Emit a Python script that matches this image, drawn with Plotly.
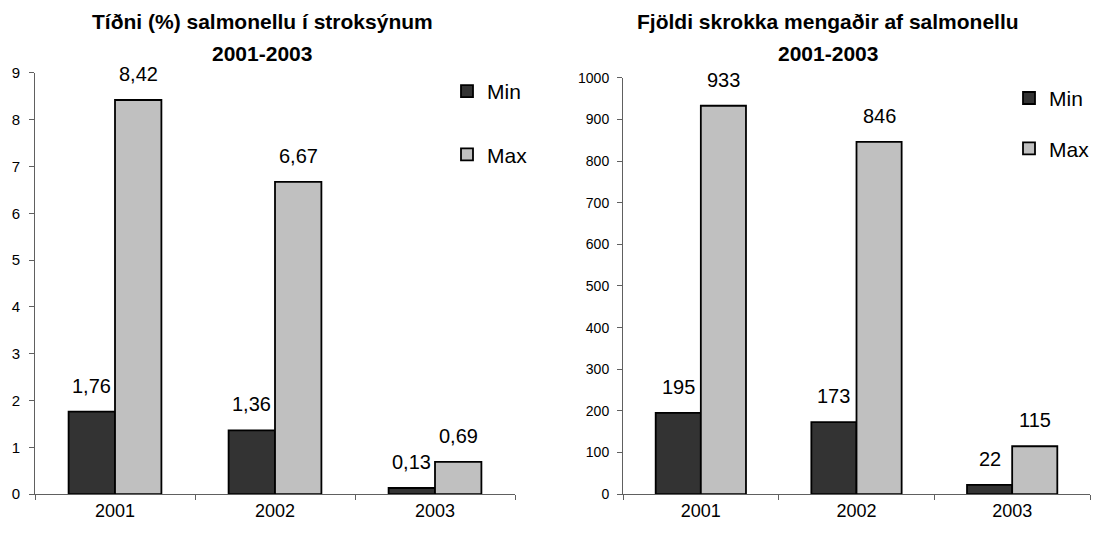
import plotly.graph_objects as go

years = ["2001", "2002", "2003"]
pct_min = [1.76, 1.36, 0.13]
pct_max = [8.42, 6.67, 0.69]
cnt_min = [195, 173, 22]
cnt_max = [933, 846, 115]

title_left = ["Tíðni (%) salmonellu í stroksýnum", "2001-2003"]
title_right = ["Fjöldi skrokka mengaðir af salmonellu", "2001-2003"]

C_MIN = "#333333"
C_MAX = "#c0c0c0"
FONT = "Liberation Sans, Arial, sans-serif"
BW = 0.29

W, H = 1108, 535


def py(y):
    """vertical pixel position (from top) -> paper fraction"""
    p = 267 + (y - 267) / 0.97
    return (H - p) / H


fig = go.Figure()

def add_pair(vmin, vmax, xa, ya, leg):
    fig.add_trace(go.Bar(x=years, y=vmin, name="Min", width=BW, offset=-BW,
                         marker=dict(color=C_MIN, line=dict(color="black", width=1.8)),
                         xaxis=xa, yaxis=ya, legend=leg, legendgroup=leg + "a"))
    fig.add_trace(go.Bar(x=years, y=vmax, name="Max", width=BW, offset=0,
                         marker=dict(color=C_MAX, line=dict(color="black", width=1.8)),
                         xaxis=xa, yaxis=ya, legend=leg, legendgroup=leg + "b"))

add_pair(pct_min, pct_max, "x", "y", "legend")
add_pair(cnt_min, cnt_max, "x2", "y2", "legend2")

annots = []
def labels(vmin, vmax, xref, yref, fmt):
    for i, (a, b) in enumerate(zip(vmin, vmax)):
        for v, dx in ((a, -BW / 2), (b, BW / 2)):
            annots.append(dict(x=i + dx, y=v, xref=xref, yref=yref, text=fmt(v),
                               showarrow=False, yshift=26, yanchor="middle",
                               font=dict(size=20, color="black", family=FONT)))

labels(pct_min, pct_max, "x", "y", lambda v: f"{v:.2f}".replace(".", ","))
labels(cnt_min, cnt_max, "x2", "y2", lambda v: str(v))

for cx, lines in ((262, title_left), (828, title_right)):
    for yy, t in zip((21, 53), lines):
        annots.append(dict(x=cx / W, y=py(yy), xref="paper", yref="paper",
                           text="<b>" + t + "</b>", showarrow=False,
                           xanchor="center", yanchor="middle",
                           font=dict(size=21, color="black", family=FONT)))

axis_common = dict(showline=True, linecolor="#606060", linewidth=1, ticks="outside",
                   tickcolor="#606060", ticklen=5, showgrid=False, zeroline=False)

fig.update_layout(
    width=W, height=H, margin=dict(l=0, r=0, t=0, b=0),
    paper_bgcolor="white", plot_bgcolor="white",
    font=dict(family=FONT, color="black"),
    barmode="group",
    xaxis=dict(domain=[35 / W, 515 / W], anchor="y", type="category", range=[-0.5, 2.5],
               tickson="boundaries", tickfont=dict(size=18), **axis_common),
    yaxis=dict(domain=[py(494), py(72)], anchor="x", range=[0, 9], dtick=1,
               tickfont=dict(size=15), ticklabelstandoff=6, **axis_common),
    xaxis2=dict(domain=[623 / W, 1090 / W], anchor="y2", type="category", range=[-0.5, 2.5],
                tickson="boundaries", tickfont=dict(size=18), **axis_common),
    yaxis2=dict(domain=[py(494), py(77)], anchor="x2", range=[0, 1000], dtick=100,
                tickfont=dict(size=14), ticklabelstandoff=5, **axis_common),
    legend=dict(x=447 / W, y=py(70), xanchor="left", yanchor="top",
                traceorder="grouped", tracegroupgap=33, itemwidth=30,
                font=dict(size=21), bgcolor="rgba(0,0,0,0)"),
    legend2=dict(x=1009 / W, y=py(77), xanchor="left", yanchor="top",
                 traceorder="grouped", tracegroupgap=20, itemwidth=30,
                 font=dict(size=21), bgcolor="rgba(0,0,0,0)"),
    annotations=annots,
)

fig.write_html("out.html", config={"displayModeBar": False},
               post_script="document.body.style.margin='0px';document.body.style.overflow='hidden';")
